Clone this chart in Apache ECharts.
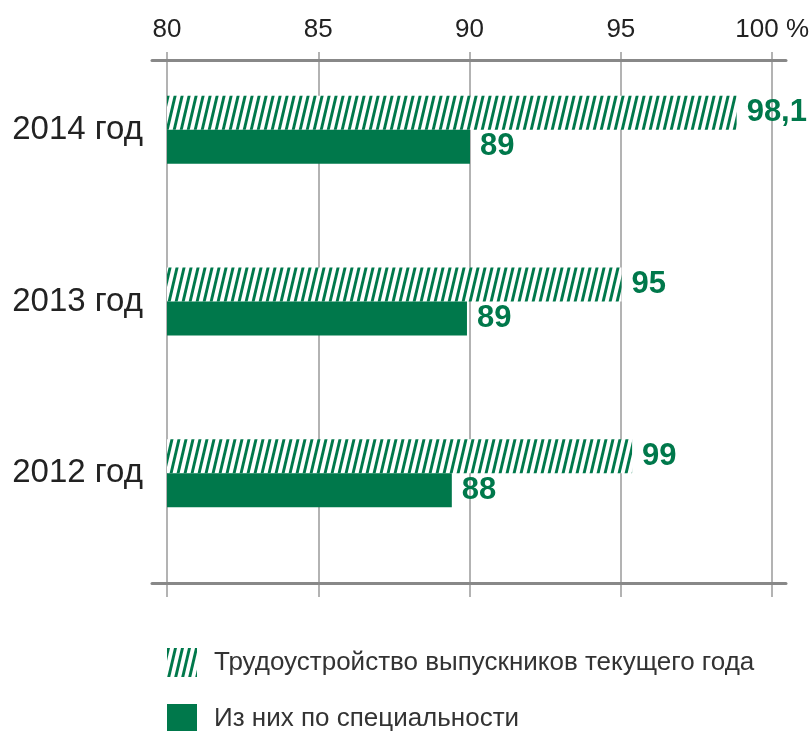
<!DOCTYPE html>
<html>
<head>
<meta charset="utf-8">
<script src="https://cdn.jsdelivr.net/npm/echarts@6/dist/echarts.min.js"></script>
<style>
html,body{margin:0;padding:0;background:#fff;}
#chart{width:812px;height:731px;}
</style>
</head>
<body>
<div id="chart"></div>
<script>
// ---- data ----
const categories = ['2014 год', '2013 год', '2012 год'];
const seriesNames = ['Трудоустройство выпускников текущего года', 'Из них по специальности'];
// bar lengths as drawn in the picture
const employedValues = [98.8, 95.0, 95.35];
const specialtyValues = [90.0, 89.9, 89.4];
// value labels as printed in the picture
const employedLabels = ['98,1', '95', '99'];
const specialtyLabels = ['89', '89', '88'];
const tickLabels = ['80', '85', '90', '95', '100 %'];
const axisMin = 80, axisMax = 100, axisStep = 5;

const GREEN = '#00784B';

// hatch pattern
function makeHatch() {
  const c = document.createElement('canvas');
  c.width = 7; c.height = 30;
  const g = c.getContext('2d');
  g.fillStyle = '#ffffff';
  g.fillRect(0, 0, 7, 30);
  g.fillStyle = GREEN;
  [-7, 0, 7].forEach(o => {
    g.beginPath();
    g.moveTo(o + 0, 30);
    g.lineTo(o + 3, 30);
    g.lineTo(o + 10, 0);
    g.lineTo(o + 7, 0);
    g.closePath();
    g.fill();
  });
  return c;
}
const hatch = { image: makeHatch(), repeat: 'repeat' };

const chart = echarts.init(document.getElementById('chart'), null, { renderer: 'canvas' });
const FONT = 'Liberation Sans';

const legendBase = {
  orient: 'vertical', left: 167, padding: 0,
  itemWidth: 30, itemHeight: 29,
  icon: 'rect',
  textStyle: { fontSize: 26, color: '#333', fontFamily: FONT, padding: [0, 0, 0, 12] }
};

chart.setOption({
  backgroundColor: '#ffffff',
  animation: false,
  textStyle: { fontFamily: FONT },
  grid: [
    { left: 167, right: 39, top: 52, bottom: 134 },   // gridlines + tick labels
    { left: 167, right: 39, top: 44, bottom: 172 },   // bars
    { left: 152, right: 26, top: 60, bottom: 148 }    // axis lines
  ],
  xAxis: [
    {
      gridIndex: 0, type: 'value', position: 'top',
      min: axisMin, max: axisMax, interval: axisStep,
      axisLine: { show: false }, axisTick: { show: false },
      splitLine: { show: true, lineStyle: { color: '#9a9a9a', width: 1.5 } },
      axisLabel: {
        margin: 9, fontSize: 26, color: '#222', fontFamily: FONT,
        formatter: v => tickLabels[Math.round((v - axisMin) / axisStep)]
      }
    },
    { gridIndex: 1, type: 'value', min: axisMin, max: axisMax, show: false },
    {
      gridIndex: 2, type: 'value', position: 'top', min: 0, max: 1,
      axisLine: { show: true, onZero: false, lineStyle: { color: '#888', width: 3 } },
      axisTick: { show: false }, axisLabel: { show: false }, splitLine: { show: false }
    },
    {
      gridIndex: 2, type: 'value', position: 'bottom', min: 0, max: 1,
      axisLine: { show: true, onZero: false, lineStyle: { color: '#888', width: 3 } },
      axisTick: { show: false }, axisLabel: { show: false }, splitLine: { show: false }
    }
  ],
  yAxis: [
    { gridIndex: 0, type: 'category', data: categories, show: false },
    {
      gridIndex: 1, type: 'category', data: categories, inverse: true,
      axisLine: { show: false }, axisTick: { show: false }, splitLine: { show: false },
      axisLabel: { margin: 24, fontSize: 33, color: '#222', fontFamily: FONT }
    },
    { gridIndex: 2, type: 'value', min: 0, max: 1, show: false }
  ],
  legend: [
    Object.assign({}, legendBase, { top: 648, data: [seriesNames[0]] }),
    Object.assign({}, legendBase, { top: 704, data: [seriesNames[1]] })
  ],
  series: [
    {
      name: seriesNames[0], type: 'bar', xAxisIndex: 1, yAxisIndex: 1,
      data: employedValues, barWidth: 34, barGap: '0%',
      itemStyle: { color: hatch },
      label: {
        show: true, position: 'right', distance: 10,
        fontSize: 31, fontWeight: 'bold', color: GREEN, fontFamily: FONT,
        formatter: p => employedLabels[p.dataIndex]
      }
    },
    {
      name: seriesNames[1], type: 'bar', xAxisIndex: 1, yAxisIndex: 1,
      data: specialtyValues, barWidth: 34, barGap: '0%',
      itemStyle: { color: GREEN },
      label: {
        show: true, position: 'right', distance: 10,
        fontSize: 31, fontWeight: 'bold', color: GREEN, fontFamily: FONT,
        formatter: p => specialtyLabels[p.dataIndex]
      }
    }
  ]
});
</script>
</body>
</html>
